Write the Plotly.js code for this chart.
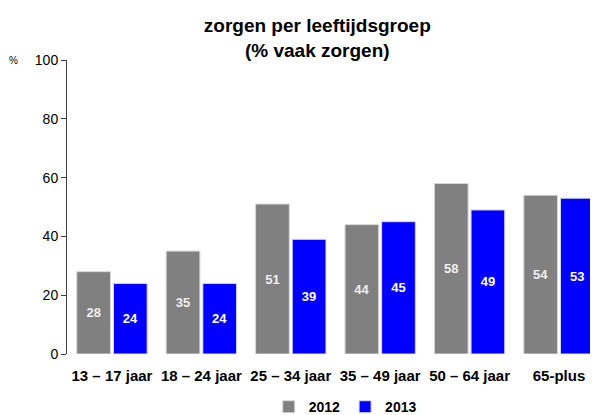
<!DOCTYPE html>
<html><head><meta charset="utf-8">
<script src="https://cdn.plot.ly/plotly-3.0.1.min.js"></script>
<style>html,body{margin:0;padding:0;background:#fff}</style>
</head><body>
<div id="chart" style="width:592px;height:415px"></div>
<script>
const categories = ["13 – 17 jaar", "18 – 24 jaar", "25 – 34 jaar", "35 – 49 jaar", "50 – 64 jaar", "65-plus"];
const values2012 = [28, 35, 51, 44, 58, 54];
const values2013 = [24, 24, 39, 45, 49, 53];
const seriesNames = ["2012", "2013"];

const font = "Liberation Sans, Arial, sans-serif";
const mk = (name, vals, color, tcolor) => ({
  type: "bar", name: name, x: categories, y: vals,
  marker: {color: color, line: {color: "#d8d8d8", width: 1}},
  text: vals.map(String), textposition: "inside", insidetextanchor: "middle",
  textfont: {family: font, size: 13, color: tcolor, weight: "bold"},
  textangle: 0, hoverinfo: "none"
});
const data = [mk(seriesNames[0], values2012, "#808080", "#f0f0f0"), mk(seriesNames[1], values2013, "#0000ff", "#ffffff")];

const layout = {
  width: 592, height: 415,
  margin: {l: 67, r: 2, t: 60, b: 61},
  paper_bgcolor: "#fff", plot_bgcolor: "#fff",
  font: {family: font, color: "#000"},
  title: {text: "<b>zorgen per leeftijdsgroep<br>(% vaak zorgen)</b>", font: {size: 19, family: font, color: "#000"},
          x: 0.536, xanchor: "center", y: 0.922, yanchor: "middle"},
  barmode: "group", bargap: 0.18, bargroupgap: 0.08,
  showlegend: true,
  legend: {orientation: "h", xref: "paper", yref: "container", x: 0.532, xanchor: "center", y: 0.019, yanchor: "middle",
           font: {size: 14, family: font, color: "#000", weight: "bold"}, itemwidth: 30, traceorder: "normal"},
  xaxis: {range: [-0.503, 5.347], showline: false, ticks: "", showgrid: false, zeroline: false,
          tickfont: {size: 15, family: font, color: "#000", weight: "bold"}, ticklabelstandoff: 11},
  yaxis: {range: [0, 100], tickvals: [0, 20, 40, 60, 80, 100], showline: true, linecolor: "#404040", linewidth: 1,
          ticks: "outside", ticklen: 5, tickcolor: "#404040", showgrid: false, zeroline: false,
          tickfont: {size: 14, family: font, color: "#000"}},
  annotations: [{text: "%", xref: "paper", yref: "paper", x: -0.09, y: 1.0, xanchor: "right", yanchor: "middle",
                 showarrow: false, font: {size: 10, family: font, color: "#000"}}]
};
Plotly.newPlot("chart", data, layout, {displayModeBar: false, staticPlot: true});
</script>
</body></html>
